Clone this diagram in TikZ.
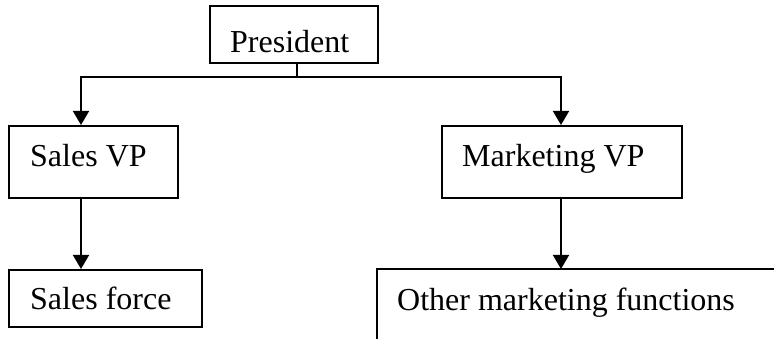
\documentclass[tikz,border=0pt]{standalone}
\usepackage{fontspec}
\setmainfont{Liberation Serif}
\usetikzlibrary{arrows.meta}
\begin{document}
\begin{tikzpicture}[x=1pt,y=-1pt,
  box/.style={draw,line width=1.6pt,rectangle,inner sep=0pt,anchor=north west},
  lbl/.style={anchor=base west,inner sep=0pt,font=\fontsize{32}{38}\selectfont},
  conn/.style={line width=1.6pt},
  arr/.style={conn,-{Triangle[width=16pt,length=14pt]}}]
\useasboundingbox (0,0) rectangle (774,339);
% boxes
\node[box,minimum width=168pt,minimum height=57pt] (pres) at (209,5) {};
\node[box,minimum width=169pt,minimum height=72pt] (svp) at (8,125) {};
\node[box,minimum width=240pt,minimum height=72pt] (mvp) at (441,125) {};
\node[box,minimum width=193pt,minimum height=57pt] (sf) at (8,269) {};
% open box (clipped)
\coordinate (omf) at (561,269);
\draw[conn] (377,340) -- (377,269) -- (775,269);
% texts
\node[lbl] (tpres) at (230,53) {President};
\node[lbl] (tsvp) at (30,167) {Sales VP};
\node[lbl] (tmvp) at (462,167) {Marketing VP};
\node[lbl] (tsf) at (30,309) {Sales force};
\node[lbl] (tomf) at (397,310) {Other marketing functions};
% connectors
\coordinate (split) at (297,77);
\draw[conn] (pres.south -| split) -- (split);
\draw[arr] (split) -| (svp.north -| 81,0);
\draw[arr] (split) -| (omf |- mvp.north);
\draw[arr] (svp.south -| 81,0) -- (sf.north -| 81,0);
\draw[arr] (omf |- mvp.south) -- (omf);
\end{tikzpicture}
\end{document}
